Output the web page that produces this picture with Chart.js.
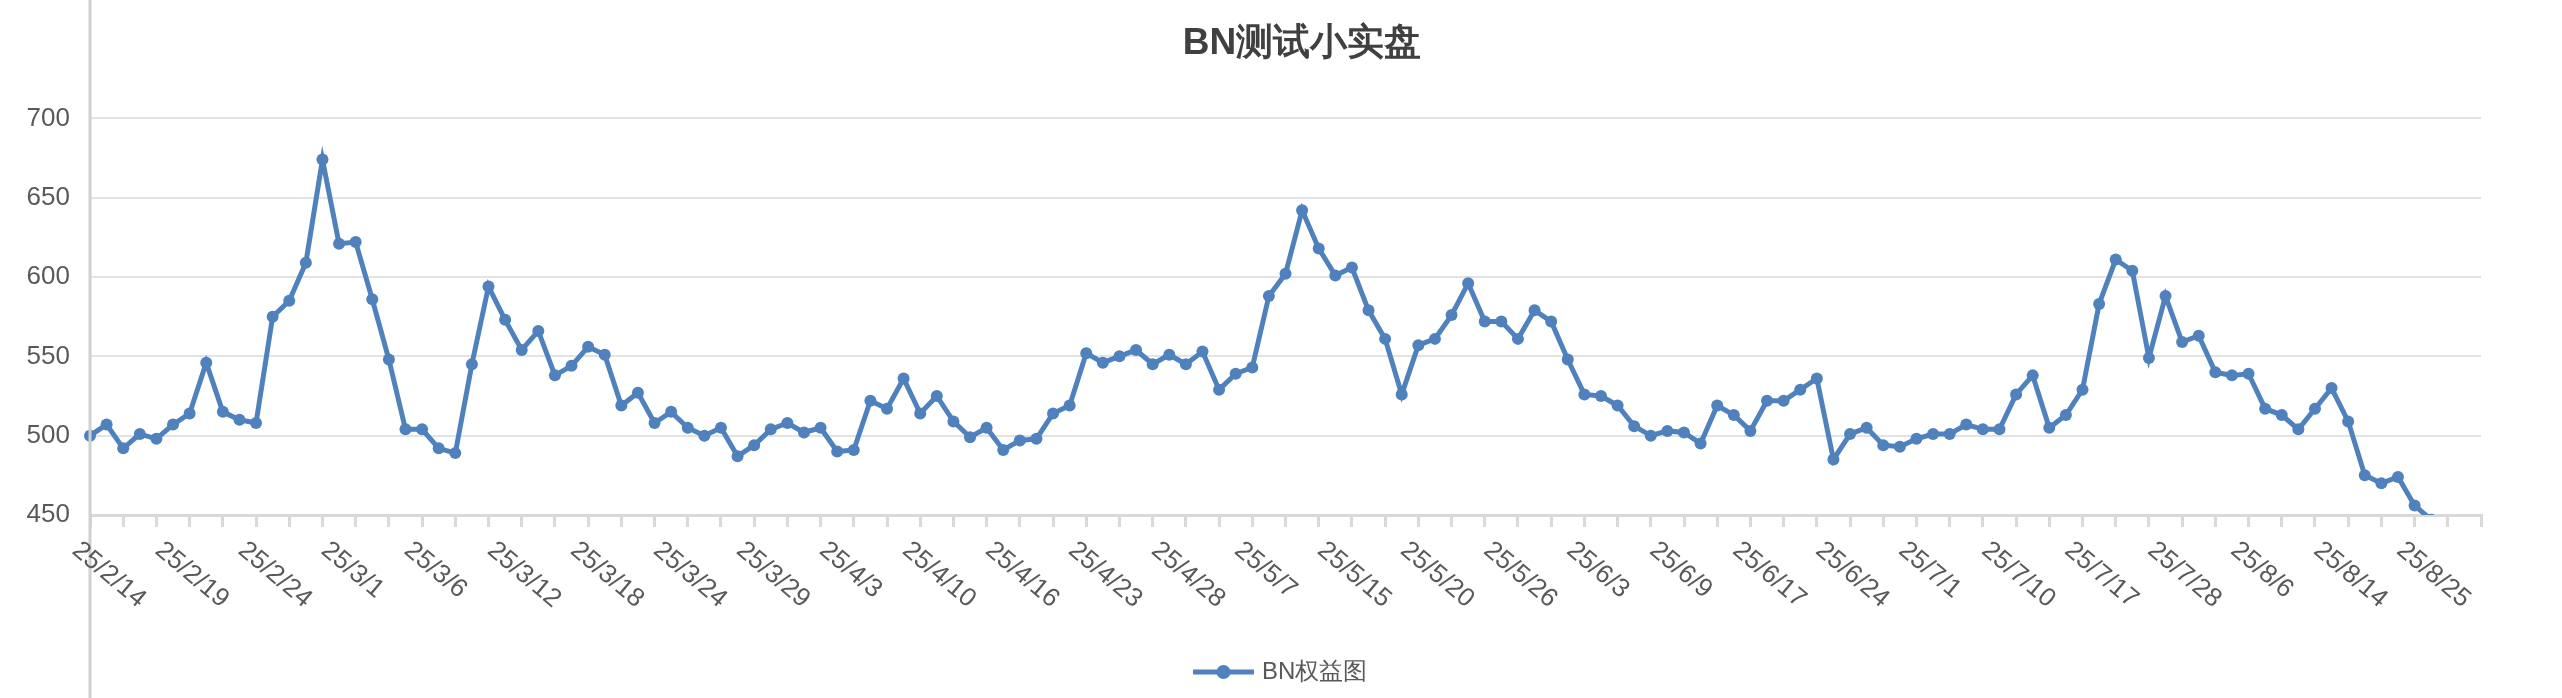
<!DOCTYPE html>
<html><head><meta charset="utf-8">
<script src="https://cdn.jsdelivr.net/npm/chart.js@4"></script>
<style>html,body{margin:0;padding:0;background:#fff}#w{width:2562px;height:698px}</style>
</head><body><div id="w"><canvas id="c"></canvas></div>
<script>
const titleText = 'BN测试小实盘';
const seriesName = 'BN权益图';
const tickLabels = ['25/2/14','25/2/19','25/2/24','25/3/1','25/3/6','25/3/12','25/3/18','25/3/24','25/3/29','25/4/3','25/4/10','25/4/16','25/4/23','25/4/28','25/5/7','25/5/15','25/5/20','25/5/26','25/6/3','25/6/9','25/6/17','25/6/24','25/7/1','25/7/10','25/7/17','25/7/28','25/8/6','25/8/14','25/8/25'];
const equity = [
500,507,492,501,498,507,514,546,515,510,508,575,585,609,674,621,622,586,548,504,504,492,489,545,594,573,554,566,538,544,556,551,519,527,508,515,505,500,505,487,494,504,508,502,505,490,491,
522,517,536,514,525,509,499,505,491,497,498,514,519,552,546,550,554,545,551,545,553,529,539,543,588,602,642,618,601,606,579,561,526,557,561,576,596,572,572,561,579,572,548,526,525,519,506,500,503,502,495,
519,513,503,522,522,529,536,485,501,505,494,493,498,501,501,507,504,504,526,538,505,513,529,583,611,604,549,588,559,563,540,538,539,517,513,504,517,530,509,475,470,474,456,
447,null,null,null];
const categories = equity.map((v,i)=> i%5===0 && tickLabels[i/5] ? tickLabels[i/5] : '');
const yTicks = [450,500,550,600,650,700];
const FONT = '"Liberation Sans", Arial, sans-serif';
const BLUE = '#4f81bd';

const deco = {
  id:'deco',
  afterDraw(chart){
    const ctx = chart.ctx, x = chart.scales.x, y = chart.scales.y;
    ctx.save();
    // left axis line full height
    ctx.strokeStyle = '#d0d0d0'; ctx.lineWidth = 3;
    ctx.beginPath(); ctx.moveTo(x.left, 0); ctx.lineTo(x.left, chart.height); ctx.stroke();
    // title
    ctx.fillStyle = '#404040'; ctx.font = 'bold 37px ' + FONT;
    ctx.textAlign = 'center'; ctx.textBaseline = 'middle';
    ctx.fillText(titleText, 1302, 44);
    // rotated x labels
    ctx.fillStyle = '#595959'; ctx.font = '26px ' + FONT;
    ctx.textAlign = 'left'; ctx.textBaseline = 'top';
    categories.forEach((lab,i)=>{
      if(!lab) return;
      const px = x.getPixelForValue(i);
      ctx.save(); ctx.translate(px-6, y.bottom+22); ctx.rotate(40*Math.PI/180);
      ctx.fillText(lab, 0, 0); ctx.restore();
    });
    // legend
    const ly = 672, lx0 = 1193, lx1 = 1254;
    ctx.strokeStyle = BLUE; ctx.lineWidth = 5;
    ctx.beginPath(); ctx.moveTo(lx0, ly); ctx.lineTo(lx1, ly); ctx.stroke();
    ctx.fillStyle = BLUE; ctx.beginPath(); ctx.arc((lx0+lx1)/2, ly, 7, 0, Math.PI*2); ctx.fill();
    ctx.fillStyle = '#595959'; ctx.font = '24px ' + FONT; ctx.textBaseline = 'middle';
    ctx.fillText(seriesName, lx1 + 8, ly);
    ctx.restore();
  }
};

new Chart(document.getElementById('c'), {
  type:'line',
  data:{labels:categories, datasets:[{label:seriesName, data:equity, borderColor:BLUE, backgroundColor:BLUE,
    borderWidth:5, pointRadius:6, pointHoverRadius:6, pointBackgroundColor:BLUE, pointBorderWidth:0, tension:0, spanGaps:false}]},
  options:{
    responsive:true, maintainAspectRatio:false, animation:false,
    layout:{padding:{top:39, right:81, bottom:171, left:0}},
    plugins:{legend:{display:false}, title:{display:false}, tooltip:{enabled:false}},
    scales:{
      x:{offset:false,
        border:{display:true, color:'#d9d9d9', width:3},
        grid:{display:true, drawOnChartArea:false, drawTicks:true, tickLength:12, lineWidth:3,
          tickColor:(c)=> (c.index%2===0 ? '#d9d9d9' : 'rgba(0,0,0,0)'), color:'rgba(0,0,0,0)'},
        ticks:{autoSkip:false, maxRotation:0, minRotation:0, callback:()=>'', font:{size:1}},
        afterFit(s){ s.height = 12; }
      },
      y:{min:450, max:750,
        afterBuildTicks(s){ s.ticks = yTicks.concat([750]).map(v=>({value:v})); },
        afterFit(s){ s.width = 90; },
        border:{display:false},
        grid:{color:(c)=> c.tick && c.tick.value===750 ? 'rgba(0,0,0,0)' : '#e3e3e3', lineWidth:2, drawTicks:false},
        ticks:{padding:20, color:'#595959', font:{family:FONT, size:26},
          callback:(v)=> v===750 ? '' : String(v)}
      }
    }
  },
  plugins:[deco]
});
</script></body></html>
